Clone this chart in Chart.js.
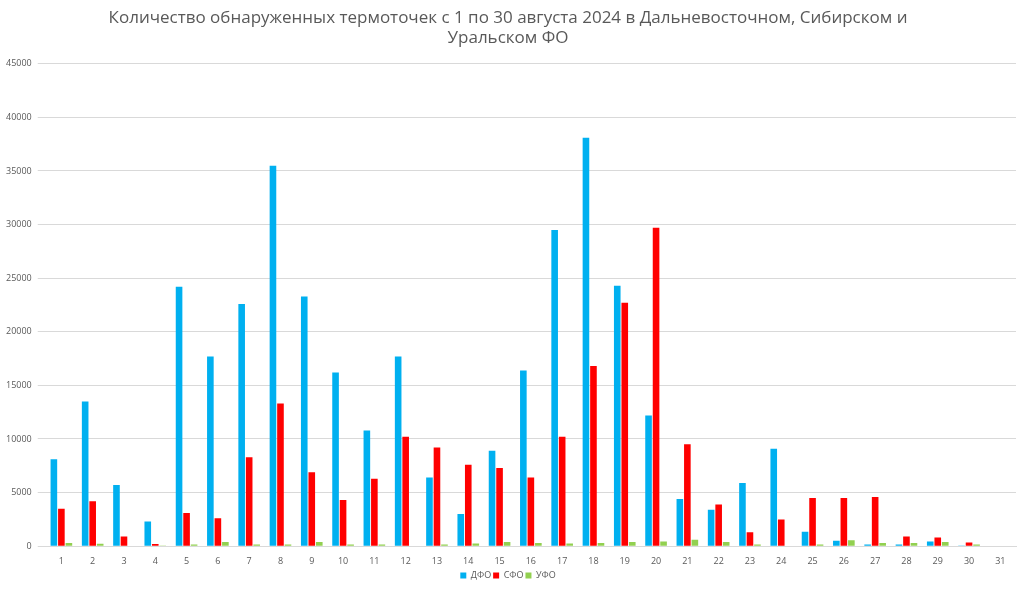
<!DOCTYPE html>
<html>
<head>
<meta charset="utf-8">
<script src="https://cdn.jsdelivr.net/npm/chart.js@4"></script>
<style>
html, body { margin: 0; padding: 0; background: #fff; }
#wrap { width: 1024px; height: 590px; }
</style>
</head>
<body>
<div id="wrap"><canvas id="chart"></canvas></div>
<script>
const days = Array.from({ length: 31 }, (_, i) => String(i + 1));

const dfo = [8100, 13500, 5700, 2300, 24200, 17700, 22600, 35500, 23300, 16200, 10800, 17700, 6400, 3000, 8900,
    16400, 29500, 38100, 24300, 12200, 4400, 3400, 5900, 9100, 1350, 520, 150, 150, 450, 60, 0];
const sfo = [3500, 4200, 900, 200, 3100, 2600, 8300, 13300, 6900, 4300, 6300, 10200, 9200, 7600, 7300,
    6400, 10200, 16800, 22700, 29700, 9500, 3900, 1300, 2500, 4500, 4500, 4600, 900, 800, 350, 0];
const ufo = [300, 230, 0, 60, 150, 400, 150, 150, 400, 150, 150, 50, 150, 250, 400,
    300, 250, 300, 400, 450, 600, 400, 150, 50, 150, 550, 300, 300, 400, 150, 0];

const yTicks = [0, 5000, 10000, 15000, 20000, 25000, 30000, 35000, 40000, 45000];

const textColor = '#595959';

new Chart(document.getElementById('chart'), {
    type: 'bar',
    data: {
        labels: days,
        datasets: [
            { label: 'ДФО', data: dfo, backgroundColor: '#00b0f0' },
            { label: 'СФО', data: sfo, backgroundColor: '#ff0000' },
            { label: 'УФО', data: ufo, backgroundColor: '#92d050' }
        ]
    },
    options: {
        responsive: true,
        maintainAspectRatio: false,
        animation: false,
        layout: { padding: { left: 0, right: 8, top: 4, bottom: 0 } },
        datasets: { bar: { categoryPercentage: 0.72, barPercentage: 0.88 } },
        plugins: {
            title: {
                display: true,
                text: ['Количество обнаруженных термоточек с 1 по 30 августа 2024 в Дальневосточном, Сибирском и',
                    'Уральском ФО'],
                color: textColor,
                font: { family: 'Open Sans', size: 17, weight: 'normal' },
                padding: { top: 4, bottom: 15 }
            },
            legend: {
                position: 'bottom',
                labels: {
                    color: textColor,
                    boxWidth: 6, boxHeight: 6,
                    font: { family: 'Open Sans', size: 9 },
                    padding: 2
                }
            },
            tooltip: { enabled: false }
        },
        scales: {
            x: {
                grid: { display: false },
                border: { color: '#d9d9d9' },
                ticks: { color: textColor, font: { family: 'Open Sans', size: 9 }, padding: 2 }
            },
            y: {
                min: 0,
                max: 45000,
                afterBuildTicks: (axis) => { axis.ticks = yTicks.map(v => ({ value: v })); },
                grid: { color: '#d9d9d9' },
                border: { display: false },
                ticks: {
                    color: textColor,
                    font: { family: 'Open Sans', size: 9 },
                    padding: 6,
                    callback: (v) => String(v)
                }
            }
        }
    }
});
</script>
</body>
</html>
